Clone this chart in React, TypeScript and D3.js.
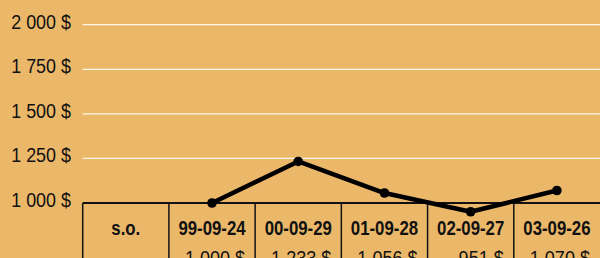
import React, { useEffect, useRef } from 'react';
import * as d3 from 'd3';

const dates = ['99-09-24', '00-09-29', '01-09-28', '02-09-27', '03-09-26'];
const values = [1000, 1233, 1056, 951, 1070];
const valueLabels = ['1 000 $', '1 233 $', '1 056 $', '951 $', '1 070 $'];
const firstColumn = 's.o.';
const yTicks = [1000, 1250, 1500, 1750, 2000];

const W = 600;
const H = 258;
// no narrow font installed, so a regular sans is squeezed horizontally
const FONT = '"Liberation Sans", Arial, sans-serif';

const fmt = (v: number) => d3.format(',')(v).replace(/,/g, ' ') + ' $';

export default function App() {
  const svgRef = useRef<SVGSVGElement>(null);

  useEffect(() => {
    document.body.style.margin = '0';
    const svg = d3.select(svgRef.current);
    svg.selectAll('*').remove();

    const left = 82.7;
    const cols = [firstColumn, ...dates];
    const x = d3.scaleBand().domain(cols).range([left, W]).padding(0);
    const y = d3.scaleLinear().domain([1000, 2000]).range([203, 24.7]);

    svg.append('rect').attr('width', W).attr('height', H).attr('fill', '#EBB86A');

    // gridlines
    svg.selectAll('line.grid')
      .data(yTicks.filter(t => t > 1000))
      .enter().append('line')
      .attr('x1', left).attr('x2', W)
      .attr('y1', d => y(d)).attr('y2', d => y(d))
      .attr('stroke', '#FFF8EA').attr('stroke-width', 1.3);

    // y labels
    svg.selectAll('text.ytick')
      .data(yTicks)
      .enter().append('text')
      .attr('transform', d => `translate(71,${y(d) + 3.8}) scale(0.92,1)`)
      .attr('text-anchor', 'end')
      .attr('font-family', FONT).attr('font-size', 19.5)
      .attr('fill', '#111')
      .text(d => fmt(d));

    // table
    const tbl = svg.append('g');
    tbl.append('line')
      .attr('x1', left).attr('x2', W).attr('y1', y(1000)).attr('y2', y(1000))
      .attr('stroke', '#111').attr('stroke-width', 2);
    tbl.selectAll('line.vcol')
      .data(cols)
      .enter().append('line')
      .attr('x1', d => x(d)!).attr('x2', d => x(d)!)
      .attr('y1', y(1000)).attr('y2', H)
      .attr('stroke', '#111').attr('stroke-width', 1.5);

    tbl.selectAll('text.head')
      .data(cols)
      .enter().append('text')
      .attr('transform', d => `translate(${x(d)! + x.bandwidth() / 2},234.5) scale(0.8,1)`)
      .attr('text-anchor', 'middle')
      .attr('font-family', FONT).attr('font-size', 21).attr('font-weight', 'bold')
      .attr('fill', '#111')
      .text(d => d);

    tbl.selectAll('text.val')
      .data(dates)
      .enter().append('text')
      .attr('transform', d => `translate(${x(d)! + x.bandwidth() - 10},264.5) scale(0.86,1)`)
      .attr('text-anchor', 'end')
      .attr('font-family', FONT).attr('font-size', 21)
      .attr('fill', '#111')
      .text((d, i) => valueLabels[i]);

    // line
    const pts = dates.map((d, i) => [x(d)! + x.bandwidth() / 2, y(values[i])] as [number, number]);
    svg.append('path')
      .attr('d', d3.line()(pts)!)
      .attr('fill', 'none').attr('stroke', '#000').attr('stroke-width', 4.5)
      .attr('stroke-linejoin', 'round');
    svg.selectAll('circle.pt')
      .data(pts)
      .enter().append('circle')
      .attr('cx', d => d[0]).attr('cy', d => d[1]).attr('r', 4.8)
      .attr('fill', '#000');
  }, []);

  return <svg ref={svgRef} width={W} height={H} style={{ display: 'block' }} />;
}
